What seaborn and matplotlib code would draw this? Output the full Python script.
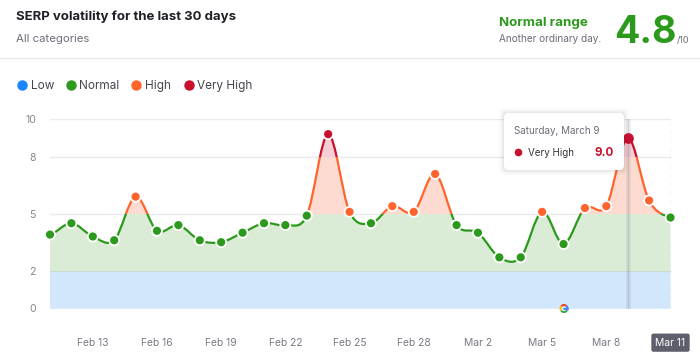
import matplotlib
matplotlib.use('Agg')
import matplotlib.pyplot as plt
import numpy as np
import pandas as pd
import seaborn as sns
from matplotlib.patches import Arc, FancyBboxPatch, PathPatch, Rectangle
from matplotlib.path import Path
from matplotlib.lines import Line2D
from matplotlib.transforms import IdentityTransform

days = ['Feb 11', 'Feb 12', 'Feb 13', 'Feb 14', 'Feb 15', 'Feb 16', 'Feb 17', 'Feb 18', 'Feb 19', 'Feb 20',
        'Feb 21', 'Feb 22', 'Feb 23', 'Feb 24', 'Feb 25', 'Feb 26', 'Feb 27', 'Feb 28', 'Feb 29', 'Mar 1',
        'Mar 2', 'Mar 3', 'Mar 4', 'Mar 5', 'Mar 6', 'Mar 7', 'Mar 8', 'Mar 9', 'Mar 10', 'Mar 11']
scores = [3.9, 4.5, 3.8, 3.6, 5.9, 4.1, 4.4, 3.6, 3.5, 4.0,
          4.5, 4.4, 4.9, 9.2, 5.1, 4.5, 5.4, 5.1, 7.1, 4.4,
          4.0, 2.7, 2.7, 5.1, 3.4, 5.3, 5.4, 9.0, 5.7, 4.8]
levels = ['Low', 'Normal', 'High', 'Very High']
level_colors = ['#1a85ff', '#2b9a1c', '#ff642d', '#c8102e']
band_fills = ['#d2e6fc', '#dbecd6', '#fddbd0', '#f6cdd3']
band_edges = [0, 2, 5, 8, 10]
y_ticks = [0, 2, 5, 8, 10]

TEXT = '#1f2026'
MUTED = '#6c6e79'


def spline_path(y):
    # cardinal spline through the points, as bezier segments
    y = np.asarray(y, dtype=float)
    t = np.zeros(len(y))
    t[1:-1] = (y[2:] - y[:-2]) / 2
    t[0] = (y[1] - y[0]) / 2
    t[-1] = (y[-1] - y[-2]) / 2
    verts = [(0, y[0])]
    for i in range(len(y) - 1):
        verts += [(i + 1 / 3, y[i] + t[i] / 3), (i + 2 / 3, y[i + 1] - t[i + 1] / 3), (i + 1, y[i + 1])]
    codes = [Path.MOVETO] + [Path.CURVE4] * (len(verts) - 1)
    return verts, codes


def level_of(v):
    if v < 2:
        return 'Low'
    if v < 5:
        return 'Normal'
    if v < 8:
        return 'High'
    return 'Very High'


sns.set_theme(style='white')
plt.rcParams['font.family'] = ['Inter', 'DejaVu Sans']

df = pd.DataFrame({'x': range(len(days)), 'score': scores})
df['level'] = df['score'].map(level_of)

fig = plt.figure(figsize=(7, 3.6), dpi=100, facecolor='white')
ax = fig.add_axes([50 / 700, 1 - 308.5 / 360, 620.5 / 700, 189.5 / 360])
ax.set_xlim(0, len(days) - 1)
ax.set_ylim(0, 10)
sns.despine(ax=ax, left=True, bottom=True)

ax.set_yticks(y_ticks)
ax.grid(axis='y', color='#e9e9ee', lw=1)
ax.set_axisbelow(True)
ax.tick_params(axis='y', length=0, labelsize=7.6, labelcolor='#85868f', pad=10)
tick_idx = sorted(set(list(range(2, len(days), 3)) + [len(days) - 1]))
ax.set_xticks(tick_idx)
ax.set_xticklabels([days[i] for i in tick_idx])
ax.tick_params(axis='x', length=0, labelsize=7.4, labelcolor='#797a84', pad=21)
last = ax.get_xticklabels()[-1]
last.set_color('white')
last.set_bbox(dict(boxstyle='round,pad=0.4,rounding_size=0.2', fc='#5d5f6b', ec='none'))

verts, codes = spline_path(scores)
n = len(days) - 1
area_verts = verts + [(n, 0), (0, 0), (0, scores[0])]
area_codes = codes + [Path.LINETO, Path.LINETO, Path.CLOSEPOLY]
for i, lev in enumerate(levels):
    low, high = band_edges[i], band_edges[i + 1]
    clip = Rectangle((-1, low), n + 2, high - low, transform=ax.transData)
    fill = PathPatch(Path(area_verts, area_codes), fc=band_fills[i], ec='none', zorder=1)
    ax.add_patch(fill)
    fill.set_clip_path(clip)
    if i > 0:
        line = PathPatch(Path(verts, codes), fc='none', ec=level_colors[i], lw=1.6, zorder=3)
        ax.add_patch(line)
        line.set_clip_path(clip)

ax.axhline(2, color='#c9dcd2', lw=0.8, zorder=2)
ax.axhline(0, color='#bfd3ea', lw=1, zorder=2)
ax.axvline(n, color='#b4b5bd', lw=0.9, ls=(0, (4, 3)), zorder=2)

# hover band on Mar 9
hover = days.index('Mar 9')
ax.axvline(hover, color='#5d6a80', alpha=0.12, lw=3.4, zorder=2.5)
ax.axvline(hover, color='#5d6a80', alpha=0.18, lw=0.8, zorder=2.5)

rest = df[df['x'] != hover]
sns.scatterplot(data=rest, x='x', y='score', hue='level', hue_order=levels,
                palette=dict(zip(levels, level_colors)), s=52, edgecolor='white', linewidth=1.3,
                legend=False, clip_on=False, zorder=4, ax=ax)
sns.scatterplot(data=df[df['x'] == hover], x='x', y='score', color=level_colors[3], s=60,
                edgecolor=level_colors[3], linewidth=0, legend=False, clip_on=False, zorder=4, ax=ax)
ax.set_xlabel('')
ax.set_ylabel('')

px = IdentityTransform()


def T(x, y, s, **kw):
    fig.text(x / 700, 1 - y / 360, s, va='center_baseline', **kw)


# header
T(16, 15, 'SERP volatility for the last 30 days', fontsize=9.5, fontweight='bold', color=TEXT)
T(16, 37.5, 'All categories', fontsize=8.2, color=MUTED)
T(499, 21.5, 'Normal range', fontsize=9.6, fontweight='bold', color=level_colors[1])
T(499, 38.5, 'Another ordinary day.', fontsize=7.2, color=MUTED)
T(614, 29, '4.8', fontsize=27, fontweight='bold', color=level_colors[1])
T(677, 39, '/10', fontsize=6.6, color=MUTED)
fig.add_artist(Line2D([0, 1], [1 - 57.5 / 360] * 2, color='#e9e9ef', lw=1))

# legend
for x, tx, lev, col in zip([22.5, 71, 136, 188.5], [30.5, 79.5, 145, 197], levels, level_colors):
    fig.add_artist(Line2D([x / 700], [1 - 84.5 / 360], marker='o', ms=6.5, color=col, ls='none'))
    T(tx, 84.5, lev, fontsize=8.5, color='#44454f')

# tooltip
for grow, a in [(5, 0.02), (3, 0.03), (1.5, 0.05)]:
    fig.add_artist(FancyBboxPatch((508 - grow, 360 - 166 - grow), 112 + 2 * grow, 49 + 2 * grow,
                                  boxstyle='round,pad=4,rounding_size=5', transform=px,
                                  fc='#20222e', ec='none', alpha=a))
fig.add_artist(FancyBboxPatch((508, 360 - 166), 112, 49, boxstyle='round,pad=4,rounding_size=5',
                              transform=px, fc='white', ec='none'))
T(514.5, 130, 'Saturday, March 9', fontsize=7.1, color=MUTED)
fig.add_artist(Line2D([517.5 / 700], [1 - 151.5 / 360], marker='o', ms=4.5, color=level_colors[3], ls='none'))
T(528, 151.5, 'Very High', fontsize=7.1, color='#33343d')
T(613.5, 151.5, '9.0', fontsize=8.4, fontweight='bold', color=level_colors[3], ha='right')

# google update icon sitting on the axis at Mar 6
gx, gy = 564, 360 - 308.5
for a1, a2, col in [(-35, 50, '#4285f4'), (50, 140, '#ea4335'), (140, 220, '#fbbc05'), (220, 325, '#34a853')]:
    fig.add_artist(Arc((gx, gy), 7, 7, theta1=a1, theta2=a2, color=col, lw=1.5, transform=px))
fig.add_artist(Line2D([gx, gx + 3.5], [gy, gy], color='#4285f4', lw=1.4, transform=px))

fig.savefig('out.png', dpi=100)
